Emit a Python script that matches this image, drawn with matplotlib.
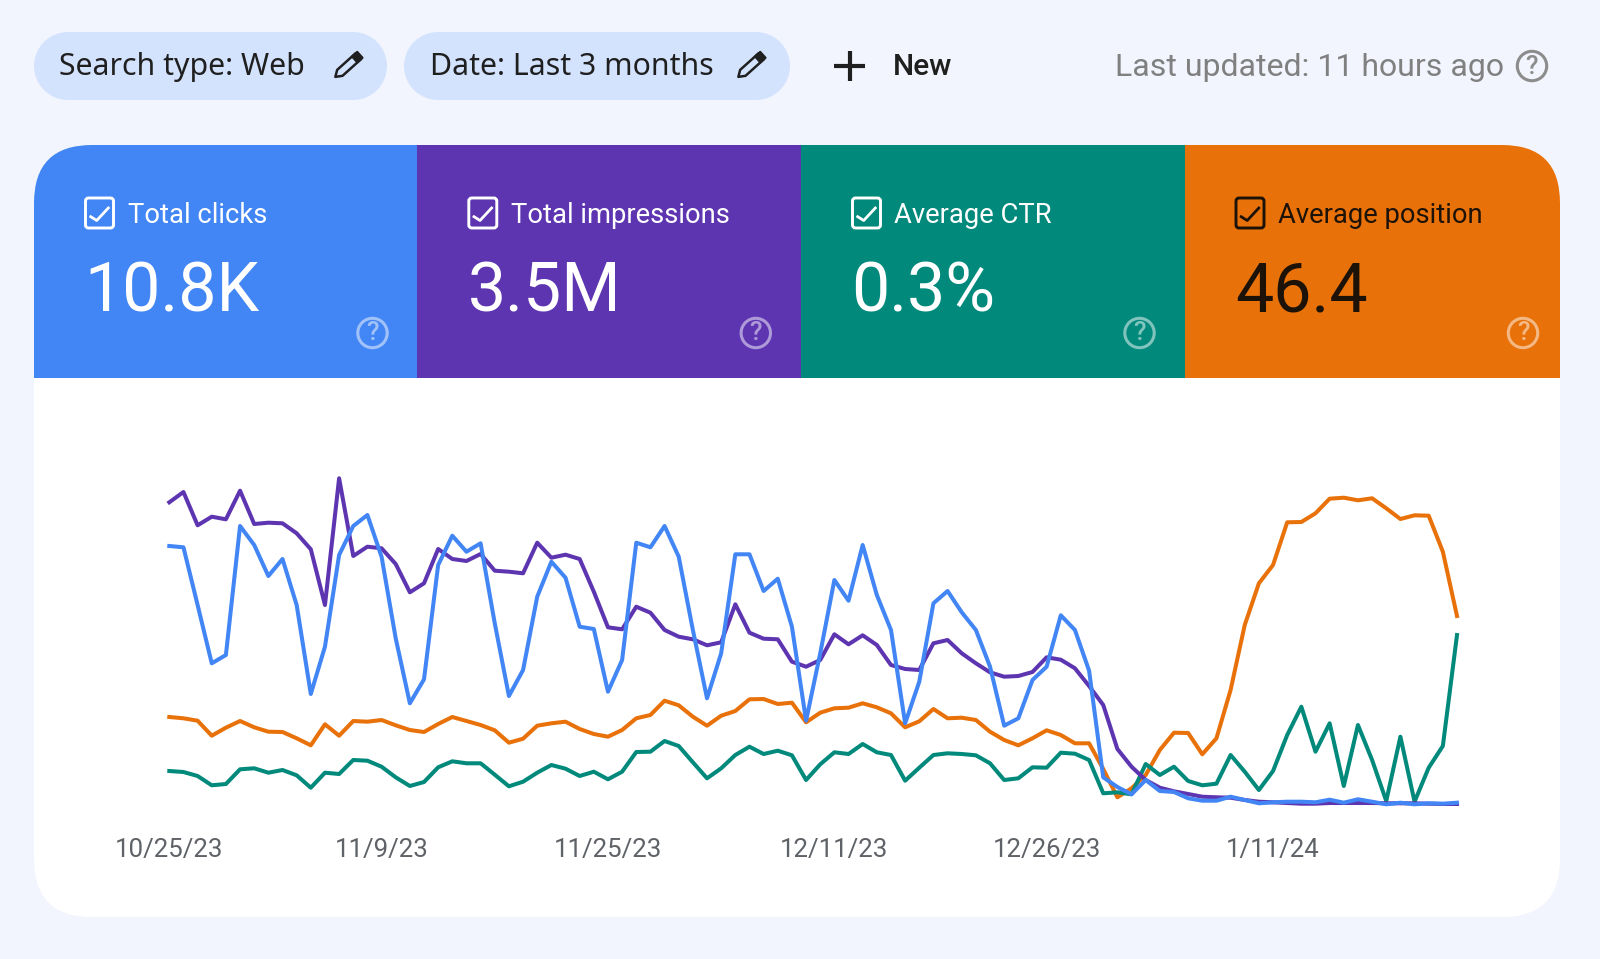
import matplotlib.pyplot as plt
import numpy as np
from matplotlib.patches import Circle, FancyBboxPatch, Polygon, Rectangle

plt.rcParams['font.family'] = ['Roboto', 'DejaVu Sans']

# height of each line above the chart baseline, one point per day
clicks = [259, 257.7, 200, 141.7, 150, 279, 260, 229, 246, 200, 111, 158.3, 250, 279, 290, 248.3, 166.7, 101.7, 125.7, 240,
          269.3, 253.3, 261.7, 181.7, 109, 135, 208.3, 243.3, 227.3, 178.3, 176, 113.3, 145, 262.3, 257.7, 279, 248.3, 175, 106.7, 151.7,
          250.7, 250.7, 214, 226.3, 178.3, 84.3, 151.7, 225, 204.3, 260, 210, 175, 81.7, 123.3, 201.7, 214, 192.7, 175, 138.3, 79.3,
          86.7, 125, 138.3, 189.7, 175, 134.3, 27.7, 18, 10.7, 25, 14, 13, 6.7, 4.3, 4.3, 8.3, 5, 1.7, 2.7, 3.3,
          3.3, 2.7, 5.3, 2.3, 5.7, 3.3, 0.7, 2.3, 0.7, 1.7, 1.3, 2.3]
impressions = [302.7, 313, 279.7, 288.3, 285.7, 314.3, 281, 282.3, 281.7, 271.7, 255.7, 200, 326.7, 249, 258.3, 256.7, 241, 212.7, 221.7, 256,
               246, 244, 251, 234.3, 233.3, 231.7, 262.3, 247.3, 250.3, 246, 213.3, 177.7, 175.7, 198.3, 192.3, 175, 168.3, 165.7, 159.7, 162.7,
               200.7, 172.3, 166.3, 165.7, 143.3, 138.3, 145, 170.7, 160.7, 169.7, 160, 140, 136, 135, 161.7, 165, 151.7, 141.7, 132.7, 128.3,
               129, 133, 147.7, 145.3, 136.7, 119, 100, 56, 38.3, 25, 17.3, 13.7, 11, 8.3, 7.7, 7.3, 5, 3.3, 2.7, 2,
               1.3, 1.3, 2, 2, 2, 2, 1.7, 1.7, 1.7, 1.3, 1, 1]
ctr = [34, 33, 29, 19.7, 21, 35.7, 36.7, 32.3, 35, 29.7, 17.3, 32.3, 31, 45, 44.3, 38.3, 27.7, 19, 23, 37.7,
       43.7, 41.7, 41.7, 30.3, 18.7, 23.3, 32.3, 40, 36.3, 29, 33.3, 25.7, 33.3, 53, 53.3, 64, 59, 42.7, 26.7, 36.7,
       50, 58.3, 51, 54.3, 49.7, 25, 40.7, 52.7, 51, 61, 52.7, 50, 24.3, 37.3, 50, 51.7, 51, 49.7, 41.7, 25,
       26.7, 37.7, 37.3, 52.3, 51.3, 45, 11.7, 12.7, 10.7, 41, 30, 38.3, 24, 19.7, 21.3, 50, 33.3, 15, 34, 70,
       98.3, 53.3, 81.7, 19, 80, 45, 4, 68.3, 3.3, 37.3, 59, 170]
position = [88, 86.7, 84.3, 69.3, 77.3, 84, 77.7, 73.3, 73, 66.7, 59.7, 80.7, 69.3, 84, 83.3, 85, 79.7, 75, 73, 81,
            88, 84, 80, 74.7, 62.3, 66.3, 79.3, 81.7, 83.3, 76, 71, 68.3, 75, 86.7, 90, 104.3, 99.7, 88.3, 79.3, 89.3,
            94, 105.7, 106, 101, 102.3, 82.7, 92.3, 96.7, 97.3, 101.7, 97.7, 91.7, 77.7, 83.7, 96, 86.7, 87.3, 85, 73.3, 65,
            59.7, 66.7, 74.7, 70, 61.7, 61.7, 36, 7.7, 16.7, 30, 55, 72.3, 72, 50.7, 66.7, 115, 180, 221.7, 240, 282.7,
            283, 291.7, 306.3, 307.3, 304.7, 306.7, 296.7, 286, 289.7, 289.3, 253.3, 189]

tick_days = [0, 15, 31, 47, 62, 78]
tick_labels = ['10/25/23', '11/9/23', '11/25/23', '12/11/23', '12/26/23', '1/11/24']

card_names = ['Total clicks', 'Total impressions', 'Average CTR', 'Average position']
card_values = ['10.8K', '3.5M', '0.3%', '46.4']
card_colors = ['#4285f4', '#5e35b1', '#01897b', '#e8710a']
card_text = ['white', 'white', 'white', '#1c1207']

W, H = 1600, 959
fig = plt.figure(figsize=(W / 100, H / 100), dpi=100, facecolor='#f2f5fd')

# page axes in pixels, y going down
page = fig.add_axes([0, 0, 1, 1])
page.set_xlim(0, W)
page.set_ylim(H, 0)
page.axis('off')


def pill(x0, x1, y0, y1, color):
    r = (y1 - y0) / 2
    page.add_patch(Rectangle((x0 + r, y0), x1 - x0 - 2 * r, y1 - y0, fc=color, ec='none'))
    page.add_patch(Circle((x0 + r, y0 + r), r, fc=color, ec='none'))
    page.add_patch(Circle((x1 - r, y0 + r), r, fc=color, ec='none'))


def pencil(cx, cy, color='#1f1f1f'):
    d = np.array([1, -0.9]) / np.hypot(1, 0.9)
    n = np.array([0.9, 1]) / np.hypot(1, 0.9)
    c = np.array([cx, cy])
    tip = c - d * 17
    body = [tip, c - d * 11 + n * 4, c + d * 14 + n * 4, c + d * 14 - n * 4, c - d * 11 - n * 4]
    page.add_patch(Polygon(body, closed=True, fc='none', ec=color, lw=1.8, joinstyle='round'))
    cap = [c + d * 9 + n * 4, c + d * 16 + n * 4, c + d * 16 - n * 4, c + d * 9 - n * 4]
    page.add_patch(Polygon(cap, closed=True, fc=color, ec=color, lw=1.5, joinstyle='round'))


def help_icon(cx, cy, color, alpha):
    page.add_patch(Circle((cx, cy), 14.7, fc='none', ec=color, lw=2.2, alpha=alpha))
    page.text(cx, cy + 0.5, '?', color=color, alpha=alpha, fontsize=18.5, fontweight='medium', ha='center', va='center')


# filter chips
pill(34, 387, 32, 100, '#d3e3fd')
pill(404, 790, 32, 100, '#d3e3fd')
page.text(59, 75, 'Search type: Web', fontsize=21.8, family=['Noto Sans', 'DejaVu Sans'], fontweight='medium', color='#1f1f1f', ha='left', va='baseline')
page.text(430, 75, 'Date: Last 3 months', fontsize=21.8, family=['Noto Sans', 'DejaVu Sans'], fontweight='medium', color='#1f1f1f', ha='left', va='baseline')
pencil(348, 65.5)
pencil(751, 65.5)

page.plot([849.5, 849.5], [51, 81], color='#1f1f1f', lw=3, solid_capstyle='butt')
page.plot([834, 865], [66, 66], color='#1f1f1f', lw=3, solid_capstyle='butt')
page.text(893, 75, 'New', fontsize=21.5, color='#1f1f1f', fontweight='medium', ha='left', va='baseline')

page.text(1504, 76, 'Last updated: 11 hours ago', fontsize=23, color='#808080', ha='right', va='baseline')
help_icon(1532, 66, '#8c8c8c', 1)

# white panel with the four cards clipped to its corners
rad = 58
panel = FancyBboxPatch((34 + rad, 145 + rad), 1526 - 2 * rad, 772 - 2 * rad, boxstyle=f'round,pad={rad},rounding_size={rad}', fc='white', ec='none')
page.add_patch(panel)

card_edges = [34, 417.3, 801, 1184.5, 1560]
for i, name in enumerate(card_names):
    x0 = card_edges[i]
    card = Rectangle((x0, 145), card_edges[i + 1] - x0, 233, fc=card_colors[i], ec='none')
    page.add_patch(card)
    card.set_clip_path(panel)

    tc = card_text[i]
    bx = x0 + 51.5
    page.add_patch(FancyBboxPatch((bx + 3, 201), 22, 24, boxstyle='round,pad=3,rounding_size=3', fc='none', ec=tc, lw=2.1))
    page.plot([bx + 5.2, bx + 11.2, bx + 22.8], [216.7, 220.5, 208], color=tc, lw=2)
    page.text(x0 + 93.5, 223, name, fontsize=19.7, color=tc, ha='left', va='baseline')
    page.text(x0 + 50.5, 311.5, card_values[i], fontsize=49, color=tc, ha='left', va='baseline')
    help_icon(x0 + 338.5, 333, 'white', 0.5)

# chart
left, right, base, span = 169.3, 1457, 805, 340
ax = fig.add_axes([left / W, (H - base) / H, (right - left) / W, span / H])
ax.patch.set_alpha(0)
days = np.arange(len(clicks))
ax.plot(days, position, color=card_colors[3], lw=2.9, clip_on=False, zorder=2)
ax.plot(days, ctr, color=card_colors[2], lw=2.9, clip_on=False, zorder=3)
ax.plot(days, impressions, color=card_colors[1], lw=2.9, clip_on=False, zorder=4)
ax.plot(days, clicks, color=card_colors[0], lw=2.9, clip_on=False, zorder=5)
ax.set_xlim(0, 91)
ax.set_ylim(0, span)
ax.set_yticks([])
ax.set_xticks(tick_days)
ax.set_xticklabels(tick_labels, fontsize=18.6, color='#5f6368')
ax.tick_params(axis='x', length=0, pad=23.5)
for s in ax.spines.values():
    s.set_visible(False)

fig.savefig('out.png', dpi=100, facecolor=fig.get_facecolor())
